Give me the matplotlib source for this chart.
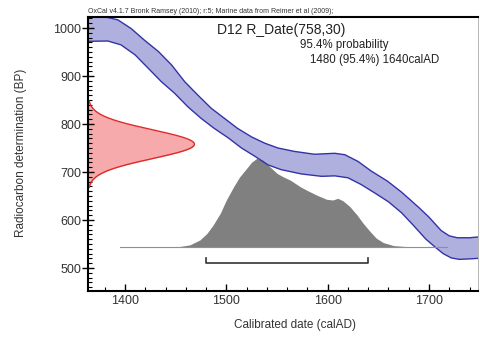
import numpy as np
import matplotlib.pyplot as plt
from matplotlib.ticker import MultipleLocator

plt.rcParams['font.family'] = ['Liberation Sans', 'DejaVu Sans']

# calibration curve band edges (calAD, BP)
upper_years = [1355, 1383, 1393, 1406, 1419, 1433, 1446, 1459, 1472, 1485, 1498, 1511,
               1525, 1538, 1551, 1567, 1587, 1607, 1617, 1630, 1643, 1659, 1673, 1690,
               1700, 1712, 1720, 1728, 1740, 1755]
upper_bp = [1026, 1022, 1017, 999, 975, 951, 923, 888, 860, 833, 812, 791,
            773, 760, 750, 743, 737, 739, 736, 722, 702, 681, 658, 626,
            606, 578, 567, 563, 563, 566]
lower_years = [1355, 1383, 1396, 1410, 1423, 1436, 1449, 1462, 1475, 1488, 1502, 1515,
               1528, 1541, 1554, 1574, 1594, 1607, 1620, 1633, 1646, 1660, 1673, 1685,
               1697, 1707, 1714, 1722, 1730, 1740, 1755]
lower_bp = [972, 973, 965, 944, 916, 888, 864, 836, 812, 791, 771, 750,
            733, 715, 705, 696, 691, 692, 688, 674, 657, 638, 615, 588,
            560, 542, 530, 521, 518, 519, 521]

# radiocarbon date
r_mean = 758
r_sd = 30

# calibrated distribution (relative)
prob_years = [1395, 1440, 1454, 1464, 1474, 1481, 1487, 1494, 1500, 1507, 1513, 1520,
              1525, 1530, 1536, 1543, 1550, 1556, 1563, 1573, 1579, 1589, 1599, 1605,
              1610, 1615, 1622, 1629, 1635, 1642, 1648, 1655, 1665, 1678, 1700, 1718]
prob_vals = [0, 0.1, 0.4, 2, 7, 13.7, 22, 33.7, 47, 60, 70, 78.7,
             85, 88.7, 87, 80.3, 73.7, 70.3, 67, 60.3, 57, 52, 47.7, 47,
             48.7, 46.3, 40.3, 32, 23.7, 15.3, 8.7, 4.3, 1.3, 0.3, 0, 0]

range_from = 1480
range_to = 1640

fig = plt.figure(figsize=(4.81, 3.40), dpi=100)
ax = fig.add_axes([0.183, 0.144, 0.811, 0.806])

# calibration curve
ax.fill(np.r_[upper_years, lower_years[::-1]], np.r_[upper_bp, lower_bp[::-1]],
        color='#b0b0de', lw=0)
ax.plot(upper_years, upper_bp, color='#3333a8', lw=1)
ax.plot(lower_years, lower_bp, color='#3333a8', lw=1)

# radiocarbon date on y axis
x0 = 1363.5
bp = np.linspace(r_mean - 3 * r_sd, r_mean + 3 * r_sd, 200)
dens = np.exp(-0.5 * ((bp - r_mean) / r_sd) ** 2)
ax.fill_betweenx(bp, x0, x0 + dens * 105, color='#f6aaab', lw=0)
ax.plot(x0 + dens * 105, bp, color='#e02a2a', lw=1)

# calibrated date distribution
base = 544
scale = 185 / 89
ax.fill_between(prob_years, base, base + np.array(prob_vals) * scale, color='#808080', lw=0)
ax.plot([prob_years[0], prob_years[-1]], [base, base], color='#909090', lw=0.8)

# 95.4% range bracket
ax.plot([range_from, range_from, range_to, range_to], [520, 510, 510, 520], color='#333333', lw=1.2)

ax.set_xlim(1363.5, 1748.5)
ax.set_ylim(452, 1023)
ax.xaxis.set_major_locator(MultipleLocator(100))
ax.xaxis.set_minor_locator(MultipleLocator(20))
ax.yaxis.set_major_locator(MultipleLocator(100))
ax.yaxis.set_minor_locator(MultipleLocator(10))
ax.tick_params(axis='y', which='major', direction='inout', length=8, width=1, labelsize=9, labelcolor='#333333', pad=1)
ax.tick_params(axis='y', which='minor', direction='in', length=3, width=0.8)
ax.tick_params(axis='x', which='major', direction='in', length=5, width=1, labelsize=9, labelcolor='#333333', pad=3)
ax.tick_params(axis='x', which='minor', direction='in', length=3, width=0.8)
ax.spines['left'].set_linewidth(1.5)
ax.spines['bottom'].set_linewidth(1.5)
ax.spines['top'].set_linewidth(1.5)
ax.spines['right'].set_linewidth(0.6)
ax.spines['right'].set_color('#aaaaaa')

ax.text(0.331, 0.953, 'D12 R_Date(758,30)', transform=ax.transAxes, fontsize=10, va='center', color='#222222')
ax.text(0.544, 0.898, '95.4% probability', transform=ax.transAxes, fontsize=8.3, va='center', color='#222222')
ax.text(0.569, 0.843, '1480 (95.4%) 1640calAD', transform=ax.transAxes, fontsize=8.3, va='center', color='#222222')

fig.text(0.183, 0.965, 'OxCal v4.1.7 Bronk Ramsey (2010); r:5; Marine data from Reimer et al (2009);',
         fontsize=5.0, va='center', color='#333333')
fig.text(0.044, 0.55, 'Radiocarbon determination (BP)', rotation=90, fontsize=8.5, ha='center', va='center', color='#333333')
fig.text(0.613, 0.044, 'Calibrated date (calAD)', fontsize=8.5, ha='center', va='center', color='#333333')

fig.savefig('out.png', dpi=100)
